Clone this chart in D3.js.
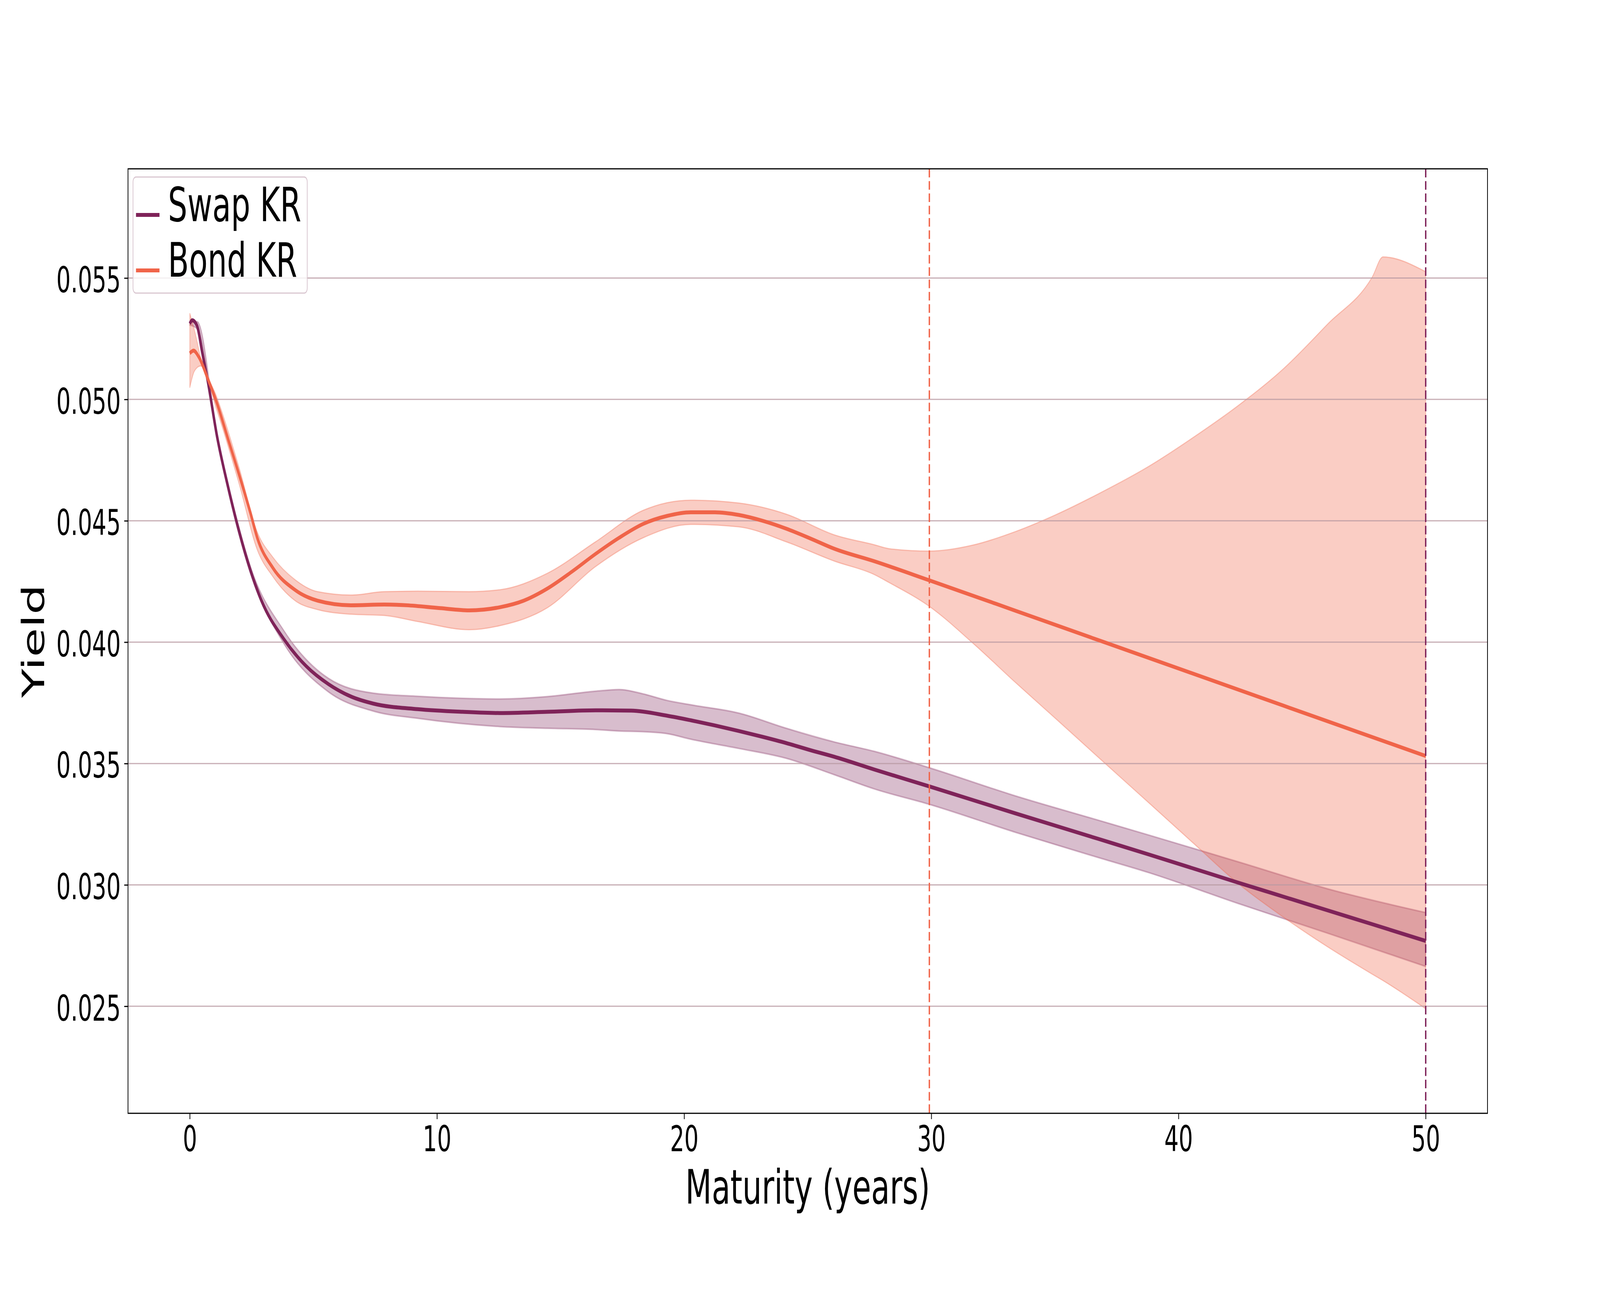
<!DOCTYPE html>
<html>
<head>
<meta charset="utf-8">
<script src="https://cdn.jsdelivr.net/npm/d3@7"></script>
<style>
  html, body { margin: 0; padding: 0; background: #fff; overflow: hidden; }
  svg { display: block; width: 100vw; height: 100vh; }
  text { font-family: "DejaVu Sans", sans-serif; }
</style>
</head>
<body>
<div id="chart"></div>
<script>
    // data
    let swapT = [0, 0.1, 0.29, 0.51, 0.74, 1.1, 1.55, 2.0, 2.46, 2.9, 3.81, 4.71, 5.61, 6.52, 7.42, 9.22, 11.03, 12.55, 14.47, 16.41, 17.86, 19.31, 20.27, 21.24, 22.21, 23.17, 24.14, 25.11, 26.07, 27.7, 29.91, 33.39, 36.74, 38.81, 40.62, 42.42, 44.23, 46.03, 47.84, 50];
    let swapYield = [0.05312, 0.05326, 0.05304, 0.0519, 0.05069, 0.04849, 0.04639, 0.04454, 0.04294, 0.04171, 0.04012, 0.03901, 0.03827, 0.03776, 0.03747, 0.03724, 0.03713, 0.03708, 0.03713, 0.03719, 0.03718, 0.03697, 0.03678, 0.03657, 0.03634, 0.0361, 0.03584, 0.03555, 0.03528, 0.03475, 0.03406, 0.03295, 0.0319, 0.03125, 0.03067, 0.03009, 0.02952, 0.02895, 0.02838, 0.02769];

    let swapBandT = [0, 0.3, 1.1, 2.0, 2.46, 3.81, 5.61, 7.42, 9.22, 12.55, 14.47, 16.41, 17.37, 18.34, 19.31, 20.27, 22.21, 24.14, 26.07, 27.7, 29.91, 33.39, 36.74, 38.81, 42.42, 46.03, 50];
    let swapUpper = [0.05318, 0.0532, 0.0486, 0.0447, 0.0431, 0.04047, 0.03851, 0.0379, 0.03777, 0.03766, 0.03776, 0.03798, 0.03805, 0.03787, 0.0376, 0.03742, 0.03708, 0.03645, 0.03589, 0.0355, 0.03483, 0.03367, 0.03267, 0.03205, 0.03095, 0.02984, 0.02886];
    let swapLower = [0.05306, 0.0529, 0.0484, 0.0444, 0.0428, 0.03993, 0.03795, 0.03716, 0.03686, 0.03652, 0.03645, 0.0364, 0.03634, 0.03631, 0.03623, 0.036, 0.03562, 0.03521, 0.03454, 0.03395, 0.03332, 0.03217, 0.03113, 0.0305, 0.02923, 0.02801, 0.02664];

    let bondT = [0, 0.15, 0.37, 0.74, 1.1, 1.55, 2.0, 2.46, 2.73, 3.36, 4.26, 5.17, 6.52, 7.87, 8.78, 10.13, 11.3, 12.55, 13.51, 14.47, 15.44, 16.41, 17.37, 18.34, 19.31, 20.27, 21.24, 22.21, 23.17, 24.14, 25.11, 26.07, 27.7, 29.91, 33.39, 36.74, 39.82, 44.23, 50];
    let bondYield = [0.0519, 0.05201, 0.05174, 0.05082, 0.04984, 0.04836, 0.04688, 0.0453, 0.0443, 0.04306, 0.04215, 0.04171, 0.04152, 0.04155, 0.04152, 0.0414, 0.04131, 0.04144, 0.04171, 0.04221, 0.04289, 0.04363, 0.0443, 0.04487, 0.0452, 0.04535, 0.04535, 0.04524, 0.045, 0.04467, 0.04427, 0.04385, 0.04333, 0.04255, 0.0413, 0.04009, 0.03898, 0.03739, 0.03531];

    let bondBandT = [0, 0.2, 0.44, 1.1, 2.0, 2.73, 3.36, 4.26, 5.17, 6.52, 7.87, 9.22, 11.3, 12.55, 14.47, 16.41, 18.34, 20.27, 22.21, 24.14, 26.07, 27.7, 28.3, 29.91, 31.69, 33.39, 35.04, 36.74, 38.81, 40.62, 42.42, 44.23, 46.03, 47.84, 48.27, 50];
    let bondUpper = [0.05355, 0.0528, 0.05173, 0.05008, 0.04718, 0.04454, 0.0435, 0.04257, 0.04208, 0.04194, 0.04208, 0.0421, 0.04208, 0.04216, 0.04284, 0.04413, 0.04543, 0.04585, 0.04573, 0.04527, 0.04442, 0.04401, 0.04385, 0.04375, 0.044, 0.04455, 0.04525, 0.0461, 0.04725, 0.04845, 0.04975, 0.05125, 0.0531, 0.05505, 0.05587, 0.05526];
    let bondLower = [0.05048, 0.05119, 0.05138, 0.04953, 0.0465, 0.0438, 0.0427, 0.04171, 0.04134, 0.04115, 0.0411, 0.04085, 0.04051, 0.04068, 0.04142, 0.04311, 0.0443, 0.04485, 0.04475, 0.04413, 0.04334, 0.04278, 0.04245, 0.04148, 0.03995, 0.03835, 0.03684, 0.03527, 0.03337, 0.0317, 0.03005, 0.02868, 0.02745, 0.02632, 0.02606, 0.0249];

    let xTicks = [0, 10, 20, 30, 40, 50];
    let yTicks = [0.025, 0.030, 0.035, 0.040, 0.045, 0.050, 0.055];
    let cutoffs = [{t: 29.92, name: "bond"}, {t: 50, name: "swap"}];
    let seriesNames = ["Swap KR", "Bond KR"];

    let swapColor = "#7f2359";
    let bondColor = "#f06449";

    let svgWidth = 6400;
    let svgHeight = 3337;
    let plot = {left: 512, right: 5950, top: 432, bottom: 2849};

    // drawn in 6400x3337 units and stretched over the whole window
    let svg = d3.select("#chart")
        .append("svg")
        .attr("viewBox", `0 0 ${svgWidth} ${svgHeight}`)
        .attr("preserveAspectRatio", "none");

    let x = d3.scaleLinear().domain([-2.5, 52.5]).range([plot.left, plot.right]);
    let y = d3.scaleLinear().domain([0.02059, 0.0595]).range([plot.bottom, plot.top]);

    svg.append("rect").attr("width", svgWidth).attr("height", svgHeight).attr("fill", "#fff");

    svg.append("clipPath").attr("id", "plotclip")
        .append("rect")
        .attr("x", plot.left).attr("y", plot.top)
        .attr("width", plot.right - plot.left).attr("height", plot.bottom - plot.top);

    let band = d3.area()
        .x(d => x(d[0]))
        .y0(d => y(d[2]))
        .y1(d => y(d[1]))
        .curve(d3.curveMonotoneX);

    let line = d3.line()
        .x(d => x(d[0]))
        .y(d => y(d[1]))
        .curve(d3.curveMonotoneX);

    let inner = svg.append("g").attr("clip-path", "url(#plotclip)");

    // confidence bands
    let swapBand = swapBandT.map((t, i) => [t, swapUpper[i], swapLower[i]]);
    let bondBand = bondBandT.map((t, i) => [t, bondUpper[i], bondLower[i]]);

    inner.append("path")
        .attr("d", band(swapBand))
        .attr("fill", swapColor)
        .attr("fill-opacity", 0.3)
        .attr("stroke", swapColor)
        .attr("stroke-opacity", 0.3)
        .attr("stroke-width", 4);

    inner.append("path")
        .attr("d", band(bondBand))
        .attr("fill", bondColor)
        .attr("fill-opacity", 0.32)
        .attr("stroke", bondColor)
        .attr("stroke-opacity", 0.35)
        .attr("stroke-width", 3);

    // horizontal grid
    inner.selectAll(".grid")
        .data(yTicks)
        .enter()
        .append("line")
        .attr("x1", plot.left).attr("x2", plot.right)
        .attr("y1", d => y(d)).attr("y2", d => y(d))
        .attr("stroke", "#b99aa3")
        .attr("stroke-opacity", 0.8)
        .attr("stroke-width", 3);

    // curves
    inner.append("path")
        .attr("d", line(swapT.map((t, i) => [t, swapYield[i]])))
        .attr("fill", "none")
        .attr("stroke", swapColor)
        .attr("stroke-width", 10);

    inner.append("path")
        .attr("d", line(bondT.map((t, i) => [t, bondYield[i]])))
        .attr("fill", "none")
        .attr("stroke", bondColor)
        .attr("stroke-width", 10);

    // cutoff maturities
    inner.selectAll(".cutoff")
        .data(cutoffs)
        .enter()
        .append("line")
        .attr("x1", d => x(d.t)).attr("x2", d => x(d.t))
        .attr("y1", plot.top).attr("y2", plot.bottom)
        .attr("stroke", d => d.name === "swap" ? swapColor : bondColor)
        .attr("stroke-width", 5.5)
        .attr("stroke-dasharray", "22,9.5");

    // axes
    let xAxis = svg.append("g")
        .attr("transform", `translate(0, ${plot.bottom})`)
        .call(d3.axisBottom(x).tickValues(xTicks).tickFormat(d3.format("d")).tickSize(15).tickPadding(18));

    let yAxis = svg.append("g")
        .attr("transform", `translate(${plot.left}, 0)`)
        .call(d3.axisLeft(y).tickValues(yTicks).tickFormat(d3.format(".3f")).tickSize(15).tickPadding(14));

    [xAxis, yAxis].forEach(a => {
        a.select(".domain").remove();
        a.selectAll(".tick line").attr("stroke", "#000").attr("stroke-width", 3);
        a.selectAll(".tick text")
            .attr("fill", "#000")
            .style("font-size", "90px")
            .style("font-family", "DejaVu Sans");
    });
    yAxis.selectAll(".tick text").attr("dy", "0.4em");

    // frame
    svg.append("rect")
        .attr("x", plot.left).attr("y", plot.top)
        .attr("width", plot.right - plot.left).attr("height", plot.bottom - plot.top)
        .attr("fill", "none")
        .attr("stroke", "#000")
        .attr("stroke-width", 3);

    // axis labels
    svg.append("text")
        .attr("x", (plot.left + plot.right) / 2)
        .attr("y", 3080)
        .attr("text-anchor", "middle")
        .style("font-size", "122px")
        .text("Maturity (years)");

    svg.append("text")
        .attr("transform", `translate(177, ${(plot.top + plot.bottom) / 2}) rotate(-90)`)
        .attr("text-anchor", "middle")
        .style("font-size", "122px")
        .text("Yield");

    // legend
    let legend = svg.append("g");
    legend.append("rect")
        .attr("x", 532).attr("y", 453)
        .attr("width", 697).attr("height", 297)
        .attr("rx", 12)
        .attr("fill", "#fff")
        .attr("fill-opacity", 0.8)
        .attr("stroke", "#d9c6d0")
        .attr("stroke-width", 3);

    let legendColors = [swapColor, bondColor];
    seriesNames.forEach((name, i) => {
        let ly = 550 + i * 142;
        legend.append("line")
            .attr("x1", 544).attr("x2", 638)
            .attr("y1", ly).attr("y2", ly)
            .attr("stroke", legendColors[i])
            .attr("stroke-width", 10);
        legend.append("text")
            .attr("x", 672)
            .attr("y", ly + 16)
            .style("font-size", "122px")
            .text(name);
    });
</script>
</body>
</html>
